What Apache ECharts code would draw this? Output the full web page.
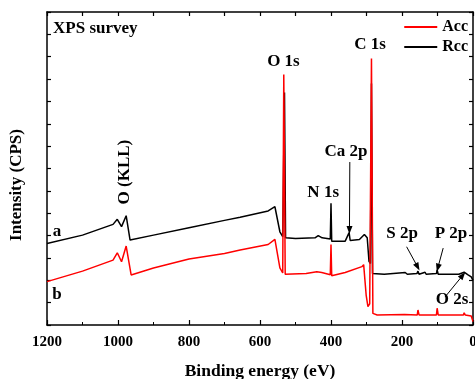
<!DOCTYPE html>
<html>
<head>
<meta charset="utf-8">
<script src="https://cdn.jsdelivr.net/npm/echarts@6/dist/echarts.min.js"></script>
<style>
  html, body { margin: 0; padding: 0; background: #fff; }
  #chart { width: 475px; height: 379px; }
</style>
</head>
<body>
<div id="chart"></div>
<script>
// binding energy (eV) vs intensity (arbitrary units)
const rcc = [
  [1200, 3.65], [1100, 4.02], [1014, 4.5], [1002, 4.73], [990, 4.4], [977, 4.89], [966, 3.8],
  [900, 4.02], [800, 4.35], [700, 4.68], [656, 4.82], [577, 5.1], [558, 5.29], [544, 4.17],
  [536, 3.95], [531, 10.4], [528, 3.9], [500, 3.87], [445, 3.9], [436, 4.0], [425, 3.9],
  [402, 3.85], [400, 5.44], [398, 3.75], [360, 3.75], [349, 4.13], [346, 3.78], [320, 3.82],
  [306, 4.05], [298, 3.9], [293, 2.85], [289, 2.75], [286, 10.8], [283, 2.3], [250, 2.27],
  [191, 2.35], [185, 2.27], [158, 2.3], [155, 2.41], [152, 2.27], [135, 2.36], [132, 2.27],
  [103, 2.3], [101, 2.46], [98, 2.27], [40, 2.27], [25, 2.36], [15, 2.25], [5, 2.15], [0, 2.0]
];
const acc = [
  [1200, 1.94], [1100, 2.41], [1014, 2.9], [1002, 3.23], [990, 2.83], [977, 3.53], [963, 2.24],
  [900, 2.55], [800, 2.95], [700, 3.2], [656, 3.35], [577, 3.6], [558, 3.83], [544, 2.55],
  [536, 2.33], [533, 11.2], [529, 2.27], [470, 2.3], [440, 2.38], [426, 2.35], [402, 2.25],
  [400, 3.6], [398, 2.2], [360, 2.35], [313, 2.61], [308, 2.7], [301, 1.34], [296, 0.82],
  [291, 0.95], [286, 11.92], [282, 0.52], [270, 0.45], [193, 0.47], [191, 0.55], [188, 0.45],
  [157, 0.45], [155, 0.67], [152, 0.45], [103, 0.45], [101, 0.75], [98, 0.45], [27, 0.45],
  [25, 0.55], [22, 0.45], [5, 0.4], [0, 0.15]
];
// peak labels: [text, eV, intensity, rotate]
const notes = [
  ["O 1s", 534, 11.76, 0], ["C 1s", 290, 12.52, 0], ["Ca 2p", 358, 7.74, 0],
  ["N 1s", 422, 5.9, 0], ["O (KLL)", 980, 6.84, 90], ["a", 1172, 4.16, 0],
  ["b", 1172, 1.38, 0], ["S 2p", 200, 4.11, 0], ["P 2p", 62, 4.11, 0], ["O 2s", 59, 1.12, 0]
];
// arrows: [fromEV, fromI, toEV, toI]
const arrows = [
  [347, 7.29, 348, 4.25], [187, 3.5, 156, 2.6], [84, 3.44, 99, 2.56], [79, 1.25, 29, 2.22]
];
const xTicks = [0, 200, 400, 600, 800, 1000, 1200];

const FONT = "'Liberation Serif', 'Times New Roman', serif";
const chart = echarts.init(document.getElementById("chart"), null, { renderer: "canvas" });

const frameLine = { show: true, onZero: false, lineStyle: { color: "#000", width: 1.5 } };

chart.setOption({
  animation: false,
  backgroundColor: "#fff",
  textStyle: { fontFamily: FONT, fontWeight: "bold", color: "#000" },
  grid: { left: 47, right: 2, top: 12, bottom: 54, outerBoundsMode: "none" },
  legend: {
    data: ["Acc", "Rcc"],
    orient: "vertical",
    right: 2,
    top: 14,
    icon: "rect",
    itemWidth: 33,
    itemHeight: 2,
    itemGap: 4,
    textStyle: { fontFamily: FONT, fontWeight: "bold", fontSize: 16, color: "#000", lineHeight: 16 },
  },
  xAxis: [
    {
      type: "value", inverse: true, min: 0, max: 1200, interval: 200,
      axisLine: frameLine,
      axisTick: { inside: true, length: 5, lineStyle: { color: "#000", width: 1.2 } },
      minorTick: { show: true, splitNumber: 2, length: 3, lineStyle: { color: "#000", width: 1 } },
      splitLine: { show: false },
      axisLabel: {
        margin: 10, fontFamily: FONT, fontWeight: "bold", fontSize: 15, color: "#000",
        formatter: (v) => (xTicks.includes(v) ? String(v) : ""),
      },
      name: "Binding energy (eV)", nameLocation: "middle", nameGap: 37,
      nameTextStyle: { fontFamily: FONT, fontWeight: "bold", fontSize: 17.5, color: "#000" },
    },
    {
      type: "value", position: "top", inverse: true, min: 0, max: 1200, interval: 100,
      axisLine: frameLine,
      axisTick: { inside: true, length: 4, lineStyle: { color: "#000", width: 1.2 } },
      axisLabel: { show: false }, splitLine: { show: false },
    },
  ],
  yAxis: [
    {
      type: "value", min: 0, max: 14, interval: 1,
      axisLine: frameLine,
      axisTick: { inside: true, length: 4, lineStyle: { color: "#000", width: 1.2 } },
      axisLabel: { show: false }, splitLine: { show: false },
      name: "Intensity (CPS)", nameLocation: "middle", nameGap: 22,
      nameTextStyle: {
        fontFamily: FONT, fontWeight: "bold", fontSize: 17, color: "#000", padding: [0, 33, 0, 0],
      },
    },
    {
      type: "value", position: "right", min: 0, max: 14, interval: 1,
      axisLine: frameLine,
      axisTick: { inside: true, length: 4, lineStyle: { color: "#000", width: 1.2 } },
      axisLabel: { show: false }, splitLine: { show: false },
    },
  ],
  series: [
    {
      name: "Rcc", type: "line", data: rcc, symbol: "none", z: 2,
      lineStyle: { color: "#000", width: 1.5 }, itemStyle: { color: "#000" },
      markLine: {
        silent: true, symbol: ["none", "triangle"], symbolSize: [6, 8],
        lineStyle: { color: "#000", width: 1, type: "solid" },
        label: { show: false },
        data: arrows.map((a) => [{ coord: [a[0], a[1]] }, { coord: [a[2], a[3]] }]),
      },
    },
    {
      name: "Acc", type: "line", data: acc, symbol: "none", z: 3,
      lineStyle: { color: "#ff0000", width: 1.5 }, itemStyle: { color: "#ff0000" },
      markPoint: {
        silent: true, symbol: "circle", symbolSize: 1,
        itemStyle: { color: "rgba(0,0,0,0)" },
        label: {
          show: true, position: "inside", color: "#000",
          fontFamily: FONT, fontWeight: "bold", fontSize: 17,
        },
        data: [
          {
            coord: [1183, 13.24],
            label: { formatter: "XPS survey", align: "left", fontSize: 17 },
          },
        ].concat(notes.map((n) => ({
          coord: [n[1], n[2]],
          label: { formatter: n[0], rotate: n[3] },
        }))),
      },
    },
  ],
});
</script>
</body>
</html>
